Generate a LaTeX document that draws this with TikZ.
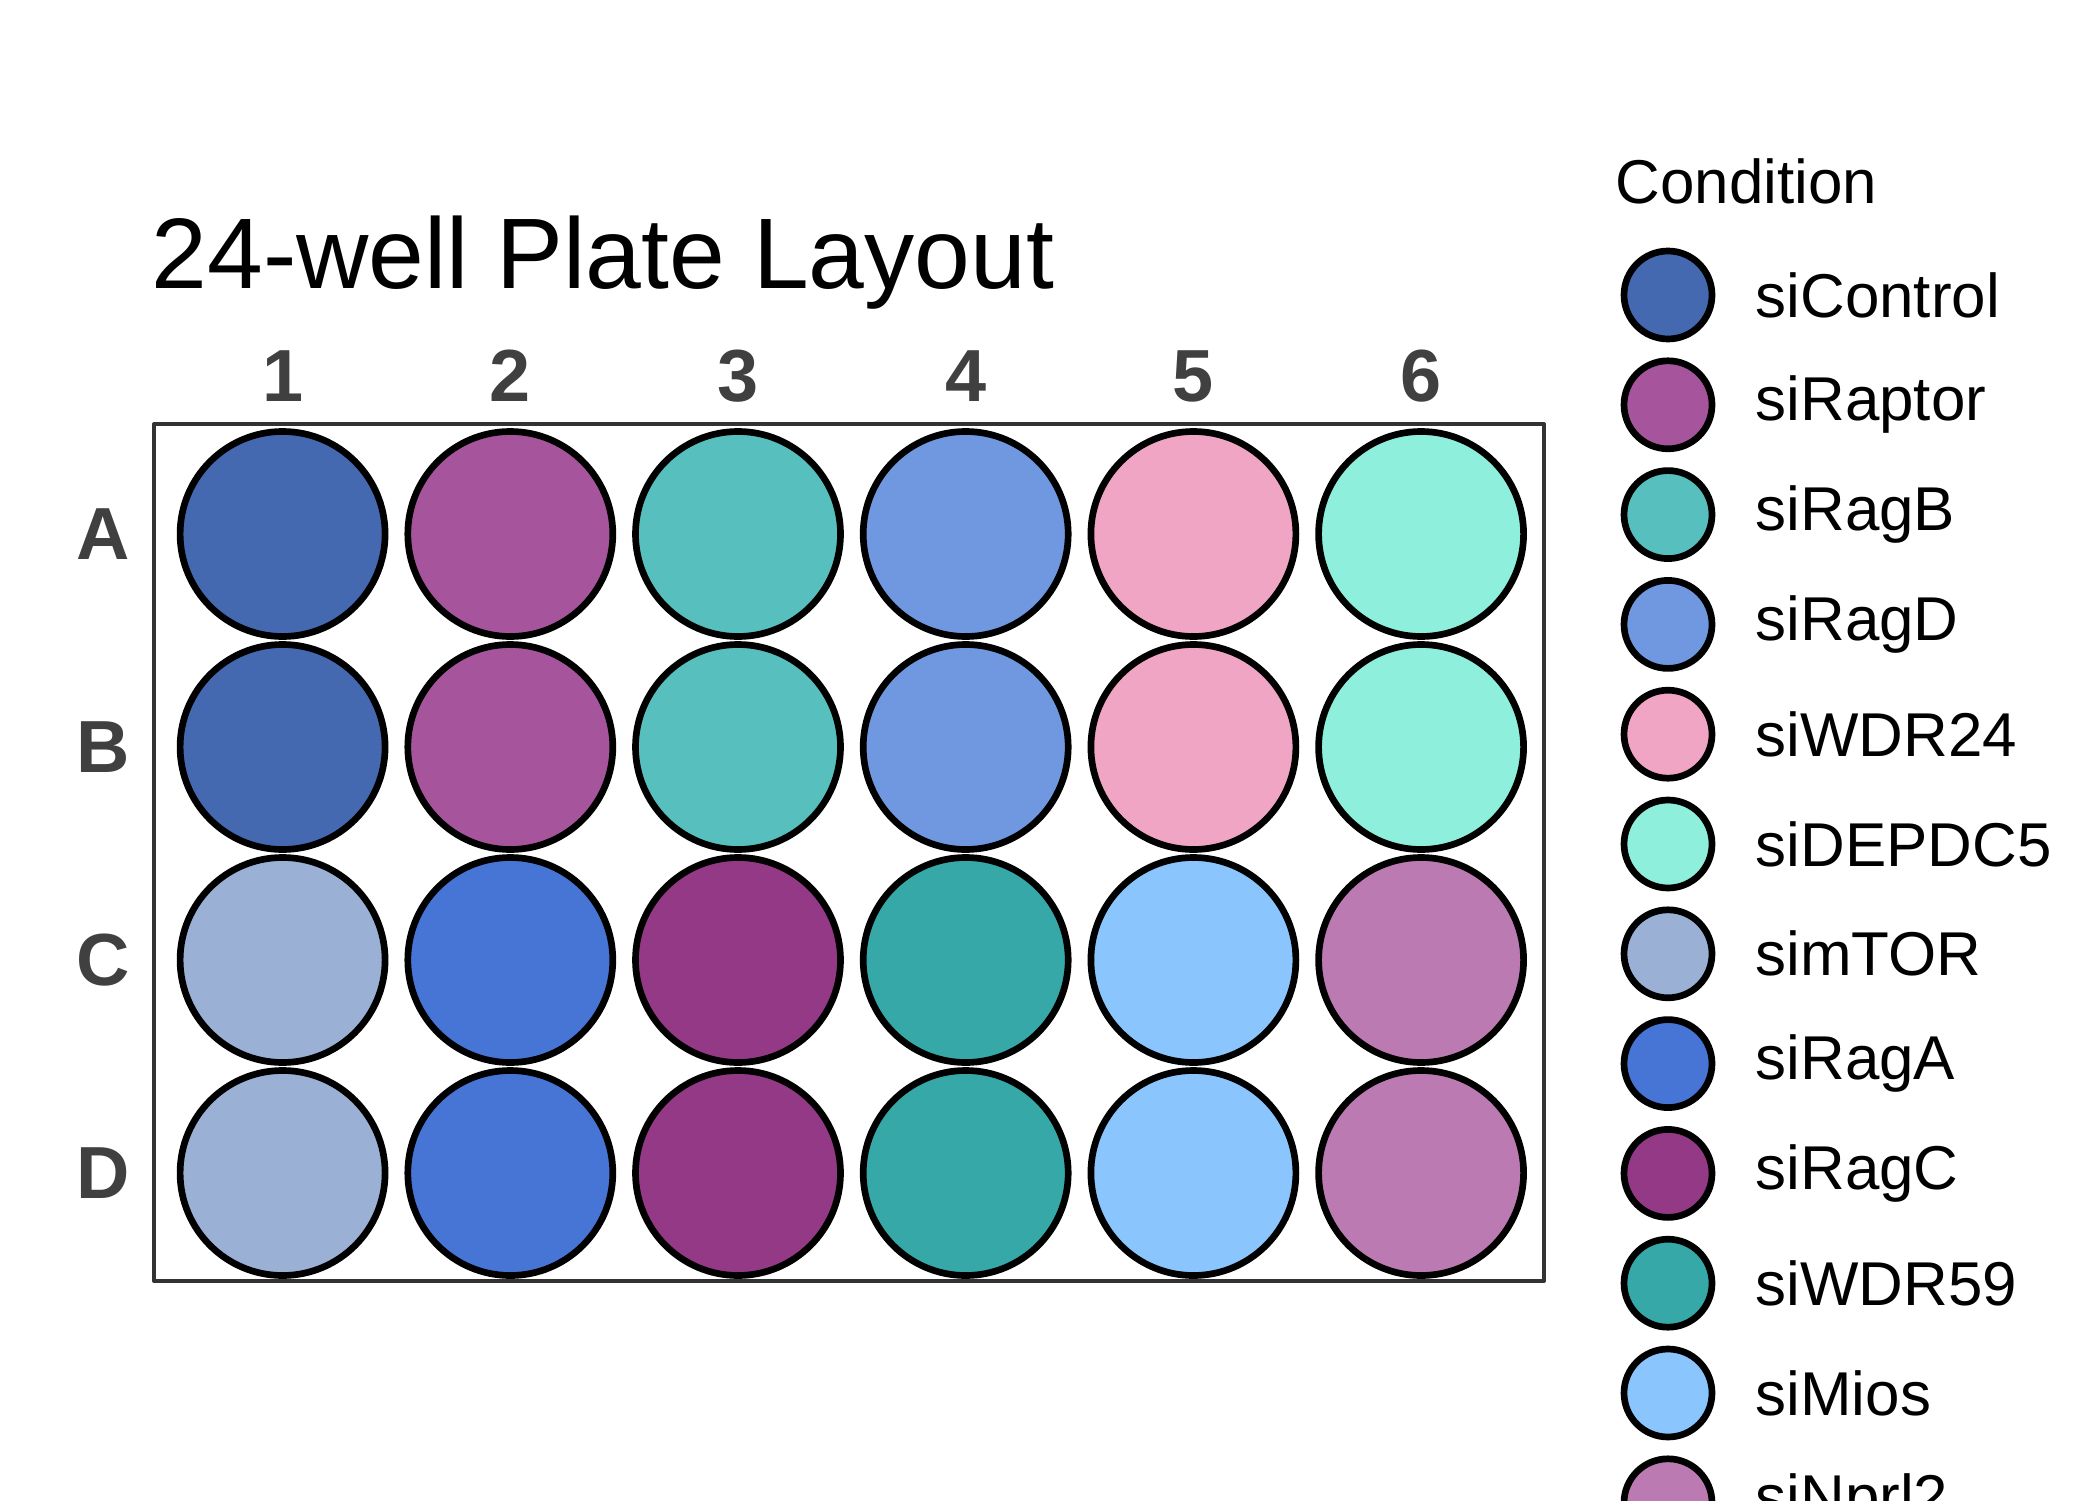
\documentclass[tikz,border=0pt]{standalone}
\usepackage{fontspec}
\setmainfont{Liberation Sans}
\definecolor{cControl}{HTML}{4469B0}
\definecolor{cRaptor}{HTML}{A6549B}
\definecolor{cRagB}{HTML}{57C0BE}
\definecolor{cRagD}{HTML}{6F98E0}
\definecolor{cWDR}{HTML}{F1A5C4}
\definecolor{cDEPDC}{HTML}{8DEFDC}
\definecolor{cmTOR}{HTML}{9AB0D4}
\definecolor{cRagA}{HTML}{4675D6}
\definecolor{cRagC}{HTML}{933986}
\definecolor{cWDRb}{HTML}{36A8A7}
\definecolor{cMios}{HTML}{8AC6FD}
\definecolor{cNprl}{HTML}{BC7AB2}
\definecolor{labgray}{HTML}{404040}
\tikzset{
  well/.style={circle, draw=black, line width=1.9pt, minimum size=205*0.01cm, inner sep=0pt},
  key/.style={circle, draw=black, line width=1.9pt, minimum size=88*0.01cm, inner sep=0pt},
  axlab/.style={font=\fontsize{21}{24}\selectfont\bfseries, text=labgray, inner sep=0pt},
  keytext/.style={font=\fontsize{17.6}{20}\selectfont, anchor=west, inner sep=0pt}
}
\begin{document}
\begin{tikzpicture}[x=0.01cm, y=-0.01cm, line join=round, line cap=round]
\clip (0,0) rectangle (2100,1500);
\useasboundingbox (0,0) rectangle (2100,1500);
% title
\node[font=\fontsize{28.5}{32}\selectfont, anchor=base west, inner sep=0pt] (title) at (151,288) {24-well Plate Layout};
% plate
\draw[line width=1.15pt, draw=black!80] (154,424) rectangle (1544,1281);
\foreach \c in {1,...,6}
  \node[axlab] (col\c) at ({282.6+227.7*(\c-1)},376) {\c};
\foreach \r [count=\i] in {A,B,C,D}
  \node[axlab] (row\r) at (103,{534+213*(\i-1)}) {\r};
% wells
\foreach \r/\cols [count=\i] in {A/{cControl,cRaptor,cRagB,cRagD,cWDR,cDEPDC},
    B/{cControl,cRaptor,cRagB,cRagD,cWDR,cDEPDC},
    C/{cmTOR,cRagA,cRagC,cWDRb,cMios,cNprl},
    D/{cmTOR,cRagA,cRagC,cWDRb,cMios,cNprl}}
  \foreach \col [count=\c] in \cols
    \node[well, fill=\col] (w\r\c) at ({282.6+227.7*(\c-1)},{534+213*(\i-1)}) {};
% legend
\node[font=\fontsize{17.6}{20}\selectfont, anchor=base west, inner sep=0pt] (keytitle) at (1615,203.5) {Condition};
\foreach \col/\name [count=\k] in {cControl/siControl, cRaptor/siRaptor, cRagB/siRagB,
    cRagD/siRagD, cWDR/siWDR24, cDEPDC/siDEPDC5, cmTOR/simTOR, cRagA/siRagA,
    cRagC/siRagC, cWDRb/siWDR59, cMios/siMios, cNprl/siNprl2}
  {
  \node[key, fill=\col] (k\k) at (1668,{295+109.8*(\k-1)}) {};
  \node[keytext] (t\k) at (1755,{295+109.8*(\k-1)}) {\name};
  }
\end{tikzpicture}
\end{document}
